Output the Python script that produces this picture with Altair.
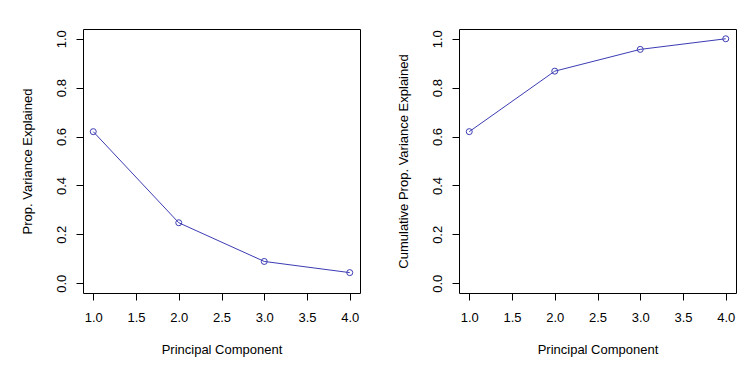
import altair as alt
import pandas as pd

# Data (USArrests PCA proportion of variance explained)
pc = [1, 2, 3, 4]
pve = [0.6201, 0.2474, 0.0891, 0.0434]
cum_pve = [0.6201, 0.8675, 0.9566, 1.0]
x_ticks = [1.0, 1.5, 2.0, 2.5, 3.0, 3.5, 4.0]
y_ticks = [0.0, 0.2, 0.4, 0.6, 0.8, 1.0]
y_titles = ["Prop. Variance Explained", "Cumulative Prop. Variance Explained"]
x_title = "Principal Component"

FONT = "Liberation Sans"
COLOR = "#3c3cb4"
W, H = 277, 264


def panel(values, ytitle):
    df = pd.DataFrame({"pc": pc, "v": values})
    x = alt.X(
        "pc:Q",
        scale=alt.Scale(domain=[0.88, 4.12], nice=False, zero=False),
        axis=alt.Axis(
            values=x_ticks, format=".1f", title=x_title,
            labelPadding=11, labelBaseline="top", labelFlush=False,
            titleX=W / 2, titleY=56, titleBaseline="middle", titleAlign="center",
        ),
    )
    y = alt.Y(
        "v:Q",
        scale=alt.Scale(domain=[-0.04, 1.04], nice=False, zero=False),
        axis=alt.Axis(
            values=y_ticks, format=".1f", title=ytitle,
            labelAngle=-90, labelAlign="center", labelBaseline="bottom",
            labelPadding=8, labelFlush=False,
            titleAngle=-90, titleX=-55.5, titleY=H / 2,
            titleBaseline="middle", titleAlign="center",
        ),
    )
    base = alt.Chart(df).encode(x=x, y=y)
    line = base.mark_line(color=COLOR, strokeWidth=1)
    pts = base.mark_point(shape="circle", filled=False, color=COLOR,
                          size=36, strokeWidth=1, opacity=1)
    return (line + pts).properties(width=W, height=H)


chart = (
    alt.hconcat(panel(pve, y_titles[0]), panel(cum_pve, y_titles[1]),
                spacing=99, bounds="flush")
    .properties(padding={"left": 12, "top": 20, "right": 5, "bottom": 5},
                background="white")
    .configure_view(stroke="black", strokeWidth=1)
    .configure_axis(
        domain=False, grid=False, tickSize=7, tickColor="#000", tickWidth=1,
        labelFont=FONT, labelFontSize=13, labelColor="#000", labelOverlap=False,
        titleFont=FONT, titleFontSize=13, titleFontWeight="normal", titleColor="#000",
    )
)

chart.save("out.html", embed_options={"renderer": "svg", "actions": False})
